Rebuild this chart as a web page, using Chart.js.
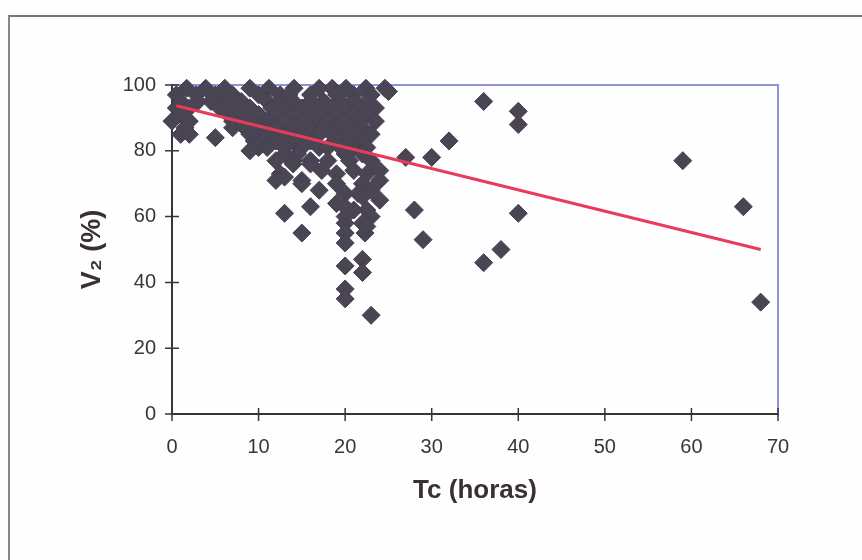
<!DOCTYPE html>
<html>
<head>
<meta charset="utf-8">
<script src="https://cdn.jsdelivr.net/npm/chart.js@4/dist/chart.umd.min.js"></script>
<style>
  html, body { margin: 0; padding: 0; background: #ffffff; }
  #wrap { position: relative; width: 862px; height: 560px; overflow: hidden; background: #fefefe; }
  #frame { position: absolute; left: 8px; top: 15px; width: 900px; height: 600px;
           border-top: 2px solid #7a7676; border-left: 2px solid #8a8686; }
  canvas { position: absolute; left: 0; top: 0; }
</style>
</head>
<body>
<div id="wrap">
  <div id="frame"></div>
  <canvas id="c" width="862" height="560"></canvas>
</div>
<script>
// ---- data ----
const tcHoras = [
  // row ~99
  1.7, 3.9, 6.1, 9, 11.2, 14.1, 17, 18.5, 20.1, 22.4, 24.6,
  // row ~97
  0.5, 2.8, 5, 7, 10, 12.5, 13.5, 16, 19, 21, 23, 25,
  // row ~95
  1, 3, 4.5, 6, 8, 11, 12.5, 14, 16, 17.5, 19.5, 21, 22.5,
  // row ~93
  0.5, 2, 5.5, 7, 9, 11.5, 13, 15, 17, 18.5, 20, 21.5, 23.5,
  // row ~91
  1, 6.5, 8, 10, 12, 14, 16, 17.5, 19, 21, 22.5,
  // row ~89
  0, 2, 7, 9, 11, 13, 15, 16.5, 18, 20, 21.5, 23.5,
  // row ~87
  1.5, 7, 8.4, 10, 12, 14, 16, 17.5, 19, 20.5, 22,
  // row ~85
  1, 2, 9, 11, 13, 15, 17, 18.5, 20, 21.5, 23,
  5,
  // row ~83 / 81 / 80
  9.5, 10.5, 12, 14, 16, 19, 20.5, 22,
  10, 11, 13, 15, 17, 18, 19.5, 21, 22.5,
  9,
  // row ~79 / 77
  13, 14.5, 20, 22,
  12, 14, 16, 18, 20.5, 23,
  // lower part of the cluster
  14, 16, 17.3, 15, 15, 19, 19, 21, 22, 22.5, 24, 24, 21.5, 12.5, 12, 13,
  13, 16, 15, 17, 20, 19, 20, 20, 20, 22, 24, 22.5, 22, 22.3,
  23, 23, 21, 22.5, 20, 20,
  20, 22, 22, 20, 20, 23,
  // outliers
  36, 40, 40, 32, 30, 27, 28, 40, 29, 38, 36, 59, 66, 68
];
const v2Pct = [
  99, 99, 99, 99, 99, 99, 99, 99, 99, 99, 99,
  97, 97, 97, 97, 97, 97, 97, 97, 97, 97, 97, 98,
  95, 95, 95, 95, 95, 95, 95, 95, 95, 95, 95, 95, 95,
  93, 93, 93, 93, 93, 93, 93, 93, 93, 93, 93, 93, 93,
  91, 91, 91, 91, 91, 91, 91, 91, 91, 91, 91,
  89, 89, 89, 89, 89, 89, 89, 89, 89, 89, 89, 89,
  87, 87, 87, 87, 87, 87, 87, 87, 87, 87, 87,
  85, 85, 85, 85, 85, 85, 85, 85, 85, 85, 85,
  84,
  83, 83, 83, 83, 83, 83, 83, 83,
  81, 81, 81, 81, 81, 81, 81, 81, 81,
  80,
  79, 79, 79, 79,
  77, 77, 77, 77, 77, 77,
  76, 76, 74, 71, 70, 73, 70, 74, 70, 73, 74, 71, 67, 73, 71, 72,
  61, 63, 55, 68, 67, 64, 58, 55, 52, 66, 65, 62, 58, 55,
  68, 60, 62, 57, 60, 63,
  45, 47, 43, 38, 35, 30,
  95, 92, 88, 83, 78, 78, 62, 61, 53, 50, 46, 77, 63, 34
];
// linear trend line end points
const trendX = [0.5, 68];
const trendY = [93.7, 50];
// axis ticks
const xTickValues = [0, 10, 20, 30, 40, 50, 60, 70];
const yTickValues = [0, 20, 40, 60, 80, 100];

const points = tcHoras.map((x, i) => ({ x: x, y: v2Pct[i] }));
const trend = trendX.map((x, i) => ({ x: x, y: trendY[i] }));

const AREA = { left: 172, top: 85, right: 778, bottom: 414 };
const W = 862, H = 560;

const framePlugin = {
  id: 'frame',
  beforeDatasetsDraw(chart) {
    const ctx = chart.ctx, a = chart.chartArea;
    ctx.save();
    ctx.strokeStyle = '#8e92d8';
    ctx.lineWidth = 2;
    ctx.beginPath();
    ctx.moveTo(a.left, a.top);
    ctx.lineTo(a.right, a.top);
    ctx.lineTo(a.right, a.bottom);
    ctx.stroke();
    // crossing tick marks
    ctx.strokeStyle = '#3a3438';
    ctx.lineWidth = 1.5;
    const xs = chart.scales.x, ys = chart.scales.y;
    ctx.beginPath();
    xs.ticks.forEach(t => {
      const px = xs.getPixelForValue(t.value);
      ctx.moveTo(px, a.bottom - 6);
      ctx.lineTo(px, a.bottom + 7);
    });
    ys.ticks.forEach(t => {
      const py = ys.getPixelForValue(t.value);
      ctx.moveTo(a.left - 7, py);
      ctx.lineTo(a.left + 7, py);
    });
    ctx.stroke();
    ctx.restore();
  }
};

new Chart(document.getElementById('c'), {
  data: {
    datasets: [
      {
        type: 'line',
        data: trend,
        borderColor: '#ea3a5c',
        borderWidth: 3,
        pointRadius: 0,
        fill: false,
        order: 0
      },
      {
        type: 'scatter',
        data: points,
        pointStyle: 'rectRot',
        pointRadius: 9,
        backgroundColor: '#4a4550',
        borderColor: '#41405e',
        borderWidth: 1,
        clip: false,
        order: 1
      }
    ]
  },
  options: {
    responsive: false,
    animation: false,
    events: [],
    layout: { padding: { left: 0, top: AREA.top, right: W - AREA.right, bottom: 0 } },
    plugins: { legend: { display: false }, tooltip: { enabled: false } },
    scales: {
      x: {
        type: 'linear',
        min: 0, max: 70,
        afterFit(s) { s.height = H - AREA.bottom; },
        afterBuildTicks(s) { s.ticks = xTickValues.map(v => ({ value: v })); },
        grid: { display: true, drawOnChartArea: false, drawTicks: false },
        border: { display: true, color: '#3a3438', width: 2 },
        ticks: { padding: 21, color: '#3a3438', font: { family: 'Liberation Sans', size: 20 }, maxRotation: 0 },
        title: {
          display: true, text: 'Tc (horas)', color: '#3b3030',
          font: { family: 'Liberation Sans', size: 26, weight: 'bold' },
          padding: { top: 0, bottom: 54 }
        }
      },
      y: {
        type: 'linear',
        min: 0, max: 100,
        afterFit(s) { s.width = AREA.left; },
        afterBuildTicks(s) { s.ticks = yTickValues.map(v => ({ value: v })); },
        grid: { display: true, drawOnChartArea: false, drawTicks: false },
        border: { display: true, color: '#3a3438', width: 2 },
        ticks: { padding: 16, color: '#3a3438', font: { family: 'Liberation Sans', size: 20 } },
        title: {
          display: true, text: 'V\u2082 (%)', color: '#3b3030',
          font: { family: 'Liberation Sans', size: 27, weight: 'bold' },
          padding: { top: 76, bottom: 0 }
        }
      }
    }
  },
  plugins: [framePlugin]
});
</script>
</body>
</html>
